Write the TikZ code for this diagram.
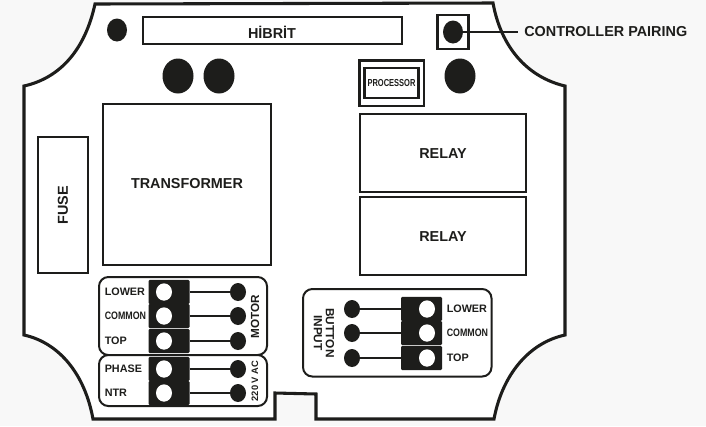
\documentclass[tikz,border=0pt]{standalone}
\usepackage{fontspec}
\setmainfont{Liberation Sans}
\usetikzlibrary{shapes.geometric}
\definecolor{ink}{HTML}{1D1D1B}
\definecolor{bgc}{HTML}{F8F8F8}
\tikzset{
  x=0.75pt,y=-0.75pt,
  board/.style={draw=ink,line width=2.3pt,fill=white,line join=miter},
  frame/.style={draw=ink,line width=1.7pt},
  box/.style={draw=ink,line width=1.7pt,fill=white,minimum width=#1,inner sep=0pt},
  lbl/.style={font=\bfseries\fontsize{10.8pt}{12pt}\selectfont,text=ink,inner sep=0pt},
  small/.style={font=\bfseries\fontsize{8.1pt}{9pt}\selectfont,text=ink,inner sep=0pt},
  hole/.style={ellipse,fill=ink,inner sep=0pt},
  bighole/.style={hole,minimum width=23.25pt,minimum height=26.25pt},
  pin/.style={hole,minimum width=12pt,minimum height=13.5pt},
  wire/.style={draw=ink,line width=1.4pt},
  panel/.style={draw=ink,line width=1.5pt,rounded corners=7pt,fill=white},
  term/.style={fill=ink,rounded corners=1pt,minimum width=30.75pt,minimum height=18.3pt,inner sep=0pt},
  termhole/.style={ellipse,fill=white,minimum width=12pt,minimum height=13pt,inner sep=0pt},
}
\newcommand{\pinlabel}[1]{\edef\tmpa{#1}\def\tmpb{COMMON}\ifx\tmpa\tmpb\scalebox{0.82}[1]{#1}\else #1\fi}
\begin{document}
\begin{tikzpicture}
\path[use as bounding box,fill=bgc] (0,0) rectangle (706,426);
% outer board
\draw[board] (95,4) -- (493,3) .. controls (501,47) and (527,77) .. (565,86)
  -- (565,335) .. controls (528,343) and (502,376) .. (494,419)
  -- (316,419) -- (316,394) -- (275,393) -- (275,419) -- (93,419)
  .. controls (85,375) and (60,343) .. (24,335)
  -- (24,86) .. controls (60,78) and (85,50) .. (95,4) -- cycle;
% top row
\node[hole,minimum width=15pt,minimum height=17.25pt] (h0) at (117,30) {};
\draw[frame] (143,17) rectangle (402,44);
\node[lbl] (hib) at (272,32) {HİBRİT};
\node[bighole] (h1) at (178,76) {};
\node[bighole] (h2) at (219,76) {};
% controller pairing
\draw[frame] (437.5,15) rectangle (468.5,49);
\node[hole,minimum width=15pt,minimum height=17.25pt] (h3) at (453,32) {};
\node[lbl,anchor=west] (cp) at (524,32) {CONTROLLER PAIRING};
\coordinate (cpend) at (518,32);
\draw[wire] (h3.center) -- (cpend);
% processor
\draw[frame] (359.5,60.5) rectangle (424,106);
\draw[frame] (364.5,68) rectangle (418.5,98);
\node[small] (proc) at (391.5,83) {\scalebox{0.74}[1]{\fontsize{7.6pt}{8pt}\selectfont PROCESSOR}};
\node[bighole] (h4) at (460,76) {};
% big boxes
\node[box=126pt,minimum height=121pt] (tr) at (187,184.5) {};
\node[lbl] at (187,184) {TRANSFORMER};
\node[box=124.5pt,minimum height=58pt] (r1) at (443,153) {};
\node[lbl] at (443,154) {RELAY};
\node[box=124.5pt,minimum height=58pt] (r2) at (443,236) {};
\node[lbl] at (443,237) {RELAY};
\node[box=37pt,minimum height=102pt] (fuse) at (63,205) {};
\node[lbl,rotate=90] at (63,205) {FUSE};
% motor panel
\draw[panel] (99,277) rectangle (267,355);
\draw[panel] (99,355) rectangle (267,406);
\foreach \n/\y/\t in {a/292/LOWER,b/316/COMMON,c/341/TOP,d/369/PHASE,e/393/NTR}{
  \node[term] (t\n) at (169,\y) {};
  \node[termhole] (th\n) at (164,\y) {};
  \node[pin] (p\n) at (238,\y) {};
  \draw[wire] (t\n.east) -- (p\n.center);
  \node[small,anchor=west] at (104.5,\y) {\pinlabel{\t}};
}
\node[small,rotate=90,font=\bfseries\fontsize{8.8pt}{9pt}\selectfont] at (255,317) {MOTOR};
\node[small,rotate=90,font=\bfseries\fontsize{7pt}{8pt}\selectfont] at (255,381) {220 V AC};
% button panel
\draw[panel] (303,289) rectangle (491.5,376.5);
\foreach \n/\y/\t in {f/309/LOWER,g/333/COMMON,h/358/TOP}{
  \node[term] (t\n) at (421.5,\y) {};
  \node[termhole] (th\n) at (427,\y) {};
  \node[pin] (p\n) at (352,\y) {};
  \draw[wire] (p\n.center) -- (t\n.west);
  \node[small,anchor=west] at (446.5,\y) {\pinlabel{\t}};
}
\node[small,rotate=-90,align=center,font=\bfseries\fontsize{8.9pt}{9pt}\selectfont] at (324,333) {BUTTON\\INPUT};
\end{tikzpicture}
\end{document}
